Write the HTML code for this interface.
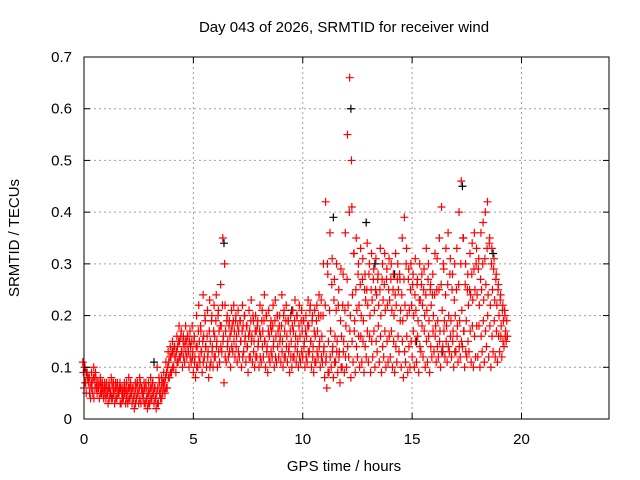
<!DOCTYPE html>
<html><head><meta charset="utf-8"><style>
html,body{margin:0;padding:0;background:#fff;}
svg{display:block;font-family:"Liberation Sans",sans-serif;}
</style></head><body>
<svg id="chart" width="640" height="480">
<text x="344" y="32" font-size="15" text-anchor="middle">Day 043 of 2026, SRMTID for receiver wind</text>
<text x="344" y="471" font-size="15" text-anchor="middle">GPS time / hours</text>
<text transform="translate(19,238) rotate(-90)" font-size="15" text-anchor="middle">SRMTID / TECUs</text>
<g id="grid"></g>
<g id="marks"></g>
<rect x="84" y="57" width="525" height="362" fill="none" stroke="#000"/>
<g id="axes"></g>
</svg>
<script>
const xTicks=[0,5,10,15,20];
const yTicks=[0,0.1,0.2,0.3,0.4,0.5,0.6,0.7];
const yTickLabels=["0","0.1","0.2","0.3","0.4","0.5","0.6","0.7"];
const seriesLo=[.06,.05,.07,.04,.05,.06,.05,.04,.05,.04,.04,.03,.05,.04,.03,.04,.05,.03,.04,.03,.03,.04,.03,.02,.04,.03,.03,.04,.03,.02,.03,.04,.03,.02,.03,.04,.05,.05,.06,.08,.09,.10,.09,.11,.12,.10,.11,.12,.10,.11,.09,.08,.10,.11,.09,.12,.10,.08,.11,.10,.12,.10,.11,.13,.07,.11,.12,.10,.13,.12,.11,.12,.10,.13,.11,.09,.12,.11,.10,.12,.10,.11,.12,.10,.09,.11,.12,.10,.11,.12,.11,.10,.12,.11,.09,.10,.12,.11,.10,.11,.12,.10,.11,.13,.10,.09,.11,.12,.10,.11,.08,.06,.09,.10,.08,.11,.09,.07,.10,.09,.10,.12,.08,.11,.09,.12,.10,.11,.09,.12,.11,.09,.12,.10,.13,.11,.09,.12,.10,.11,.12,.10,.09,.11,.13,.10,.08,.11,.09,.10,.12,.10,.11,.09,.13,.12,.10,.11,.09,.12,.13,.11,.12,.10,.14,.12,.11,.13,.12,.10,.13,.11,.12,.14,.10,.12,.13,.11,.10,.12,.12,.10,.13,.11,.14,.12,.10,.13,.12,.11,.13,.12,.14,.15];
const seriesQ1=[.07,.08,.05,.06,.04,.07,.06,.05,.06,.05,.05,.04,.04,.05,.04,.05,.03,.04,.05,.04,.04,.05,.04,.03,.05,.04,.05,.03,.04,.03,.04,.05,.04,.03,.05,.04,.06,.06,.08,.09,.10,.12,.11,.12,.13,.12,.13,.14,.12,.12,.11,.10,.12,.13,.11,.14,.12,.10,.13,.12,.14,.13,.14,.15,.12,.14,.13,.14,.15,.14,.13,.15,.12,.15,.14,.12,.15,.13,.12,.14,.12,.14,.15,.13,.12,.13,.14,.12,.14,.15,.13,.12,.14,.13,.12,.12,.14,.13,.12,.13,.14,.12,.13,.15,.12,.11,.13,.14,.12,.13,.11,.09,.12,.13,.11,.13,.12,.10,.13,.12,.14,.17,.15,.17,.14,.16,.16,.15,.14,.17,.16,.15,.17,.15,.18,.16,.14,.17,.15,.16,.17,.15,.14,.16,.19,.15,.13,.16,.14,.15,.17,.15,.16,.14,.18,.17,.15,.16,.14,.17,.16,.14,.15,.13,.17,.15,.14,.16,.15,.13,.16,.14,.15,.17,.13,.15,.17,.18,.16,.18,.18,.16,.19,.17,.20,.18,.16,.19,.17,.16,.16,.15,.16,.16];
const seriesMid=[.09,.07,.08,.06,.07,.08,.06,.06,.07,.05,.06,.05,.06,.07,.05,.06,.05,.06,.05,.06,.05,.06,.05,.04,.06,.05,.07,.05,.06,.04,.05,.06,.05,.04,.06,.05,.07,.07,.09,.11,.12,.13,.12,.14,.15,.13,.14,.15,.13,.14,.13,.12,.14,.15,.13,.16,.14,.13,.15,.14,.16,.15,.17,.18,.16,.17,.15,.16,.18,.17,.16,.17,.15,.18,.16,.14,.17,.16,.15,.17,.15,.16,.17,.15,.14,.16,.17,.15,.16,.17,.16,.15,.17,.16,.14,.15,.17,.16,.15,.16,.17,.15,.16,.18,.15,.14,.16,.17,.15,.16,.14,.12,.15,.17,.14,.16,.15,.13,.16,.15,.18,.22,.20,.24,.19,.21,.22,.20,.19,.23,.22,.20,.23,.21,.24,.22,.20,.23,.21,.22,.23,.21,.20,.22,.25,.21,.19,.22,.20,.21,.22,.20,.21,.19,.23,.22,.20,.21,.19,.22,.20,.18,.19,.17,.21,.19,.18,.20,.19,.17,.20,.18,.19,.21,.17,.19,.22,.24,.23,.25,.24,.22,.25,.23,.26,.24,.22,.25,.23,.22,.20,.18,.19,.17];
const seriesQ3=[.10,.09,.08,.07,.08,.09,.07,.07,.06,.06,.07,.06,.05,.06,.06,.07,.06,.05,.06,.05,.06,.07,.06,.05,.07,.06,.06,.05,.07,.05,.06,.07,.06,.05,.08,.06,.07,.08,.10,.12,.13,.14,.13,.15,.16,.15,.15,.16,.15,.15,.15,.14,.17,.18,.15,.20,.16,.17,.19,.17,.19,.20,.18,.22,.30,.19,.18,.17,.19,.19,.18,.19,.17,.20,.18,.16,.19,.20,.17,.18,.17,.19,.19,.20,.17,.18,.18,.19,.20,.18,.18,.20,.19,.19,.17,.18,.19,.20,.18,.19,.19,.17,.18,.21,.19,.17,.19,.20,.20,.20,.22,.30,.21,.26,.23,.21,.22,.19,.22,.21,.27,.40,.50,.32,.25,.28,.26,.27,.25,.25,.28,.25,.27,.25,.27,.25,.27,.26,.27,.25,.27,.25,.24,.27,.28,.24,.27,.30,.27,.25,.26,.24,.26,.23,.26,.25,.24,.27,.25,.24,.24,.25,.25,.26,.30,.24,.26,.28,.25,.23,.25,.26,.30,.35,.26,.25,.25,.28,.29,.30,.29,.27,.30,.31,.33,.34,.30,.29,.27,.25,.23,.21,.21,.19];
const seriesHi=[.11,.10,.09,.08,.09,.10,.08,.07,.08,.07,.07,.06,.07,.08,.07,.07,.06,.07,.06,.07,.07,.08,.06,.06,.07,.07,.08,.06,.07,.06,.07,.08,.07,.06,.10,.07,.08,.09,.11,.13,.14,.15,.14,.16,.18,.17,.16,.18,.16,.17,.18,.16,.20,.22,.17,.24,.19,.21,.23,.20,.22,.24,.21,.26,.35,.22,.20,.19,.21,.22,.20,.21,.19,.22,.20,.18,.21,.23,.19,.20,.19,.22,.21,.24,.20,.21,.19,.22,.23,.20,.20,.24,.21,.22,.19,.20,.21,.23,.20,.22,.21,.19,.20,.23,.22,.20,.21,.22,.24,.23,.30,.42,.28,.36,.31,.27,.30,.25,.29,.28,.36,.55,.66,.41,.32,.35,.30,.33,.31,.28,.34,.30,.32,.29,.31,.28,.33,.30,.32,.29,.31,.30,.28,.32,.30,.27,.35,.39,.33,.29,.30,.28,.31,.27,.30,.28,.29,.33,.30,.26,.28,.32,.31,.35,.41,.29,.33,.36,.31,.28,.30,.33,.40,.46,.35,.30,.28,.32,.34,.36,.33,.31,.36,.38,.40,.42,.35,.33,.31,.28,.26,.24,.22,.20];
const blackTimes=[0.1,3.2,6.4,9.5,11.4,12.2,12.9,13.3,14.2,15.2,16.4,17.3,18.7];
const blackValues=[0.09,0.11,0.34,0.21,0.39,0.60,0.38,0.30,0.28,0.15,0.13,0.45,0.32];
const tStep=0.1;

const NS="http://www.w3.org/2000/svg";
const X0=84,X1=609,Y0=419,Y1=57;
const xs=t=>X0+(t/24)*(X1-X0);
const ys=v=>Y0-(v/0.7)*(Y0-Y1);
const grid=document.getElementById('grid'),axes=document.getElementById('axes'),marks=document.getElementById('marks');
function mk(tag,attrs,parent){const e=document.createElementNS(NS,tag);for(const k in attrs)e.setAttribute(k,attrs[k]);parent.appendChild(e);return e;}
xTicks.forEach(t=>{
  const x=xs(t);
  if(t>0){const g=mk('line',{x1:x,x2:x,y1:Y0,y2:Y1,stroke:'#a0a0a0','stroke-dasharray':'2,3'},grid);
  
  }
  mk('line',{x1:x,x2:x,y1:Y0,y2:Y0-6,stroke:'#000'},axes);
  mk('line',{x1:x,x2:x,y1:Y1,y2:Y1+6,stroke:'#000'},axes);
  const l=mk('text',{x:x,y:444,'font-size':15,'text-anchor':'middle'},axes);
  l.textContent=t;
  
  
});
yTicks.forEach((v,i)=>{
  const y=ys(v);
  if(i>0&&i<yTicks.length-1){const g=mk('line',{x1:X0,x2:X1,y1:y,y2:y,stroke:'#a0a0a0','stroke-dasharray':'2,3'},grid);
  
  }
  mk('line',{x1:X0,x2:X0+6,y1:y,y2:y,stroke:'#000'},axes);
  mk('line',{x1:X1,x2:X1-6,y1:y,y2:y,stroke:'#000'},axes);
  const l=mk('text',{x:72,y:y+5,'font-size':15,'text-anchor':'end'},axes);
  l.textContent=yTickLabels[i];
  
  
});
function plus(t,v,color,name,dx){
  const x=xs(t)+dx,y=ys(v);
  const p=mk('path',{d:`M${x-4} ${y}H${x+4}M${x} ${y-4}V${y+4}`,stroke:color,'stroke-width':1.2,fill:'none'},marks);
  
  
}
blackTimes.forEach((t,i)=>plus(t,blackValues[i],'#000','point-black',0));
const jitter=[0,1.2,-0.6,0.6,-1.2];
[seriesLo,seriesQ1,seriesMid,seriesQ3,seriesHi].forEach((s,k)=>s.forEach((v,i)=>plus(i*tStep,v,'#f00','point-red',jitter[k])));
</script>
</body></html>
